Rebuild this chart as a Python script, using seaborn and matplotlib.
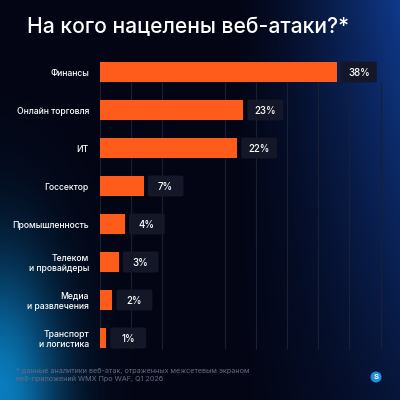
import numpy as np
import pandas as pd
import matplotlib
matplotlib.use("Agg")
import matplotlib.pyplot as plt
import seaborn as sns
from matplotlib.patches import FancyBboxPatch, Circle

categories = ["Финансы", "Онлайн торговля", "ИТ", "Госсектор", "Промышленность",
              "Телеком\nи провайдеры", "Медиа\nи развлечения", "Транспорт\nи логистика"]
values = [38, 23, 22, 7, 4, 3, 2, 1]
value_labels = ["38%", "23%", "22%", "7%", "4%", "3%", "2%", "1%"]
grid_ticks = [0, 5, 10, 20, 25, 30, 35, 40, 45]

title = "На кого нацелены веб-атаки?*"
footnote = "* данные аналитики веб-атак, отраженных межсетевым экраном\nвеб-приложений WMX Про WAF, Q1 2026"

sns.set_theme(style="dark")
plt.rcParams['font.family'] = ['Inter', 'DejaVu Sans']

fig = plt.figure(figsize=(4, 4), dpi=100)

# background gradient
H = W = 400
yy, xx = np.mgrid[0:H, 0:W].astype(float)
base = np.array([3, 5, 20], float) / 255
blue = np.array([16, 58, 140], float) / 255
teal = np.array([10, 125, 190], float) / 255
img = np.ones((H, W, 3)) * base
# right blue glow
d1 = np.clip((xx - 230) / 170, 0, 1) ** 1.4 * np.clip(1 - yy / 650, 0, 1) ** 1.2
img += d1[..., None] * (blue - base)
# bottom-left teal glow
d2 = np.exp(-(((xx - 0) / 60) ** 2 + ((yy - 400) / 140) ** 2))
img += d2[..., None] * (teal - base)
img = np.clip(img, 0, 1)
bg = fig.add_axes([0, 0, 1, 1])
bg.imshow(img, extent=[0, 1, 0, 1], aspect='auto', zorder=0)
bg.set_axis_off()

df = pd.DataFrame({"category": categories, "value": values})

ax = fig.add_axes([0.25, 1 - 357 / 400, 293 / 400, 304 / 400])
ax.patch.set_alpha(0)
sns.barplot(data=df, x="value", y="category", color="#ff5c1c", width=0.55,
            saturation=1, ax=ax, zorder=3)
for p in ax.patches:
    p.set_edgecolor("none")
ax.set_xlim(0, 47)
ax.set_ylim(7.5, -0.5)
ax.vlines(grid_ticks, 0.27, 7.3, color="#1b1f33", lw=0.8, zorder=1)

for i, (v, lab) in enumerate(zip(values, value_labels)):
    box = FancyBboxPatch((v + 0.65, i - 0.275), 5.75, 0.55,
                         boxstyle="round,pad=0,rounding_size=0.35",
                         mutation_aspect=0.15,
                         facecolor="#141728", edgecolor="none", zorder=2)
    ax.add_patch(box)
    ax.text(v + 0.65 + 5.75 / 2, i + 0.02, lab, color="white", fontsize=7,
            fontweight="medium", ha="center", va="center", zorder=4)

ax.set_xlabel("")
ax.set_ylabel("")
ax.set_xticks([])
ax.tick_params(axis="y", length=0, pad=8, labelsize=6.2, labelcolor="white")
for t in ax.get_yticklabels():
    t.set_fontweight("medium")
    t.set_linespacing(1.15)
for s in ax.spines.values():
    s.set_visible(False)
ax.grid(False)

fig.text(27 / 400, 1 - 27 / 400, title, color="white", fontsize=15.2,
         fontweight="medium", ha="left", va="center")
fig.text(16 / 400, 1 - 375 / 400, footnote, color="#666c80", fontsize=5.2,
         ha="left", va="center", linespacing=1.35)

logo = Circle((376 / 400, 1 - 377 / 400), 5.5 / 400, transform=fig.transFigure,
              facecolor="#1d8ee0", edgecolor="none")
fig.add_artist(logo)
fig.text(376 / 400, 1 - 377 / 400, "S", color="white", fontsize=5.5,
         fontweight="bold", ha="center", va="center")

fig.savefig("out.png", dpi=100)
